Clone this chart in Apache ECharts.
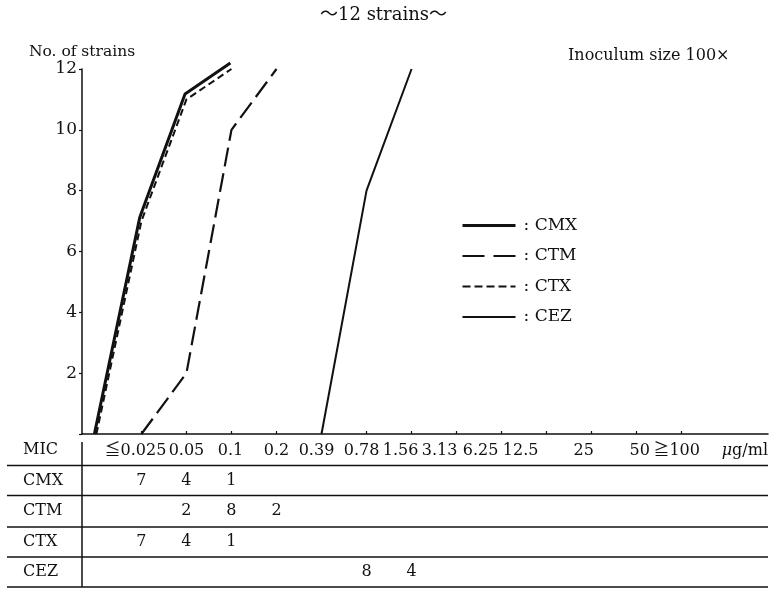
<!DOCTYPE html>
<html>
<head>
<meta charset="utf-8">
<script src="https://cdn.jsdelivr.net/npm/echarts@6/dist/echarts.min.js"></script>
<style>
  html, body { margin: 0; padding: 0; background: #fff; }
  #chart { width: 771px; height: 589px; }
</style>
</head>
<body>
<div id="chart"></div>
<script>
// MIC classes (µg/ml)
const micLabels = ['≦0.025', '0.05', '0.1', '0.2', '0.39', '0.78', '1.56', '3.13', '6.25', '12.5', '25', '50', '≧100'];
// Number of strains inhibited at each MIC
const drugNames = ['CMX', 'CTM', 'CTX', 'CEZ'];
const cmxCounts = [7, 4, 1, 0, 0, 0, 0, 0, 0, 0, 0, 0, 0];
const ctmCounts = [0, 2, 8, 2, 0, 0, 0, 0, 0, 0, 0, 0, 0];
const ctxCounts = [7, 4, 1, 0, 0, 0, 0, 0, 0, 0, 0, 0, 0];
const cezCounts = [0, 0, 0, 0, 0, 8, 4, 0, 0, 0, 0, 0, 0];
const yTicks = [0, 2, 4, 6, 8, 10, 12];

const countsByDrug = { CMX: cmxCounts, CTM: ctmCounts, CTX: ctxCounts, CEZ: cezCounts };

// the axis carries one leading empty class so each curve can start from zero
const axisCats = [''].concat(micLabels);

// cumulative number of strains, starting at 0 one class below the first hit
function cumulative(counts) {
  const out = new Array(counts.length + 1).fill('-');
  const first = counts.findIndex(c => c > 0);
  let last = counts.length - 1;
  while (last > 0 && counts[last] === 0) last--;
  out[first] = 0;
  let s = 0;
  for (let j = first; j <= last; j++) { s += counts[j]; out[j + 1] = s; }
  return out;
}

const SERIF = '"DejaVu Serif", "Liberation Serif", "Noto Sans CJK JP", serif';
const INK = '#111';

// typeset nudges (px, negative = left) for the MIC header row
const micLabelShift = [0, -6, 0, -1, 0, -5, -5, -11, -17, -21, -26, -8, 3, -5];
const micRich = {};
micLabelShift.forEach((d, i) => {
  micRich['p' + i] = {
    fontFamily: SERIF, fontSize: 16, color: INK,
    padding: d < 0 ? [0, -2 * d, 0, 0] : [0, 0, 0, 2 * d]
  };
});

const chart = echarts.init(document.getElementById('chart'), null, { renderer: 'canvas' });

const hiddenY = { type: 'value', min: 0, max: 12, show: false };
const hiddenCat = { type: 'category', data: axisCats, boundaryGap: false, show: false };

chart.setOption({
  animation: false,
  backgroundColor: '#fff',
  title: {
    text: '～12 strains～',
    left: 315, top: 1,
    textStyle: { fontFamily: SERIF, fontSize: 18, fontWeight: 'normal', color: INK }
  },
  legend: {
    orient: 'vertical',
    left: 456, top: 212,
    itemWidth: 53, itemHeight: 14, itemGap: 13.5,
    data: [
      { name: 'CMX', lineStyle: { width: 3 } },
      { name: 'CTM', lineStyle: { width: 2.2, type: [22, 9] } },
      { name: 'CTX', lineStyle: { width: 2, type: [8, 4] } },
      { name: 'CEZ', lineStyle: { width: 2 } }
    ],
    formatter: ': {name}',
    itemStyle: { opacity: 0 },
    textStyle: { fontFamily: SERIF, fontSize: 17, color: INK, padding: [0, 0, 0, 3] }
  },
  grid: [
    { left: 96.4, right: 85.5, top: 69, bottom: 155 },   // curves
    { left: 82, right: 3, top: 69, bottom: 155 },        // axis frame
    { left: 94.4, right: 87.5, top: 63, bottom: 155 }    // CMX, drawn just beside CTX
  ],
  xAxis: [
    {
      gridIndex: 0, type: 'category', data: axisCats, boundaryGap: false,
      axisLine: { show: false },
      axisTick: { show: true, inside: true, length: 3, interval: (i) => i > 0,
                  lineStyle: { color: INK, width: 1.2 } },
      axisLabel: {
        interval: 0, margin: 9, fontFamily: SERIF, fontSize: 16, color: INK,
        formatter: (v, i) => (v ? '{p' + i + '|' + v + '}' : ''),
        rich: micRich
      },
      name: '{i|μ}g/ml',
      nameLocation: 'end', nameGap: 40,
      nameTextStyle: {
        fontFamily: SERIF, fontSize: 16, color: INK, align: 'left', verticalAlign: 'top',
        padding: [9, 0, 0, 0],
        rich: { i: { fontFamily: SERIF, fontSize: 16, fontStyle: 'italic', color: INK } }
      }
    },
    {
      gridIndex: 1, type: 'value', min: 0, max: 1,
      axisLine: { show: true, lineStyle: { color: INK, width: 1.5 } },
      axisTick: { show: false }, axisLabel: { show: false }, splitLine: { show: false }
    },
    Object.assign({ gridIndex: 2 }, hiddenCat)
  ],
  yAxis: [
    Object.assign({ gridIndex: 0 }, hiddenY),
    {
      gridIndex: 1, type: 'value', min: yTicks[0], max: yTicks[yTicks.length - 1], interval: 2,
      axisLine: { show: true, lineStyle: { color: INK, width: 1.5 } },
      axisTick: { show: true, length: 3, lineStyle: { color: INK, width: 1.2 } },
      splitLine: { show: false },
      axisLabel: { margin: 5, fontFamily: SERIF, fontSize: 17, color: INK,
                   formatter: v => (v === 0 ? '' : String(v)) },
      name: 'No. of strains', nameLocation: 'end', nameGap: 9,
      nameTextStyle: { fontFamily: SERIF, fontSize: 15.5, color: INK }
    },
    Object.assign({ gridIndex: 2 }, hiddenY)
  ],
  series: [
    { name: 'CEZ', type: 'line', xAxisIndex: 0, yAxisIndex: 0, symbol: 'none',
      data: cumulative(cezCounts), lineStyle: { color: INK, width: 2 }, itemStyle: { color: INK } },
    { name: 'CTM', type: 'line', xAxisIndex: 0, yAxisIndex: 0, symbol: 'none',
      data: cumulative(ctmCounts), lineStyle: { color: INK, width: 2.2, type: [19, 7] }, itemStyle: { color: INK } },
    { name: 'CTX', type: 'line', xAxisIndex: 0, yAxisIndex: 0, symbol: 'none',
      data: cumulative(ctxCounts), lineStyle: { color: INK, width: 2, type: [7, 4] }, itemStyle: { color: INK } },
    { name: 'CMX', type: 'line', xAxisIndex: 2, yAxisIndex: 2, symbol: 'none',
      data: cumulative(cmxCounts), lineStyle: { color: INK, width: 3 }, itemStyle: { color: INK } }
  ]
});

// ---- MIC distribution table under the axis ----
const rowY = { MIC: 450, CMX: 481, CTM: 511, CTX: 542, CEZ: 572 };
const ruleY = [465.5, 495.5, 527, 557, 587];
const g = [];
const textStyle = (t, x, y, align) => ({
  type: 'text', x: x, y: y, silent: true,
  style: { text: t, fontFamily: SERIF, fontSize: 16, fill: INK, align: align || 'center', verticalAlign: 'middle' }
});
ruleY.forEach(y => g.push({
  type: 'line', silent: true,
  shape: { x1: 7, y1: y, x2: 768, y2: y },
  style: { stroke: INK, lineWidth: 1.5 }
}));
g.push({ type: 'line', silent: true, shape: { x1: 82, y1: 442, x2: 82, y2: 587 },
         style: { stroke: INK, lineWidth: 1.5 } });
g.push(textStyle('MIC', 23, rowY.MIC, 'left'));
drugNames.forEach(name => {
  g.push(textStyle(name, 23, rowY[name], 'left'));
  countsByDrug[name].forEach((c, j) => {
    if (c > 0) {
      const x = chart.convertToPixel({ xAxisIndex: 0 }, j + 1);
      g.push(textStyle(String(c), x, rowY[name]));
    }
  });
});
g.push({
  type: 'text', left: 568, top: 48, silent: true,
  style: { text: 'Inoculum size 100×', fontFamily: SERIF, fontSize: 16, fill: INK }
});
chart.setOption({ graphic: g });
</script>
</body>
</html>
